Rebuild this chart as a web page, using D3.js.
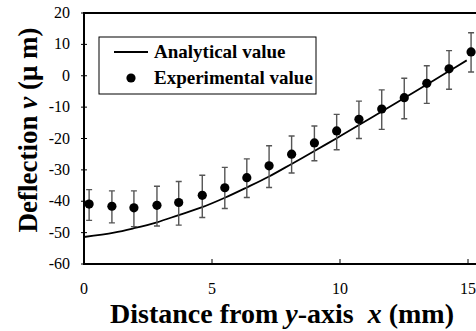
<!DOCTYPE html>
<html>
<head>
<meta charset="utf-8">
<script src="https://cdn.jsdelivr.net/npm/d3@7"></script>
<style>
  body { margin: 0; background: #fff; }
  svg { display: block; }
  text { font-family: "Liberation Serif", "Times New Roman", serif; }
</style>
</head>
<body>
<div id="chart"></div>
<script>

// ======================= //
// DATA
// ======================= //

// Experimental points (x in mm, v in um) with error bar ends
var xExp = [0.2, 1.09, 1.95, 2.85, 3.7, 4.62, 5.5, 6.36, 7.23, 8.11, 9.0, 9.87, 10.74, 11.63, 12.51, 13.39, 14.26, 15.12]
var vExp = [-40.9, -41.6, -42.1, -41.3, -40.4, -38.1, -35.7, -32.5, -28.7, -25.0, -21.4, -17.6, -13.9, -10.6, -7.0, -2.4, 2.2, 7.6]
var errTop = [-36.3, -36.7, -36.7, -35.2, -33.7, -31.7, -29.2, -26.5, -22.3, -19.2, -16.0, -12.3, -8.1, -4.5, -0.8, 3.2, 8.0, 13.7]
var errBottom = [-46.1, -46.9, -48.1, -47.9, -47.6, -45.2, -42.3, -38.8, -35.6, -31.0, -27.1, -23.6, -20.0, -17.1, -13.7, -8.8, -4.3, 1.2]

// Analytical curve
var xAna = [0, 1.17, 1.95, 2.85, 3.7, 4.62, 5.5, 6.36, 7.23, 8.11, 9.0, 9.87, 10.74, 11.63, 12.51, 13.39, 14.26, 14.95]
var vAna = [-51.4, -50.0, -48.6, -46.7, -44.4, -41.9, -38.9, -35.6, -32.1, -28.1, -24.0, -19.9, -15.7, -11.4, -7.1, -2.8, 1.5, 4.9]

// Ticks
var xTicks = [0, 5, 10, 15]
var yTicks = [20, 10, 0, -10, -20, -30, -40, -50, -60]

// ======================= //
// SVG AREA
// ======================= //

var W = 476, H = 331
var margin = {top: 13, left: 84, bottom: 67}
var plotBottom = H - margin.bottom

var svg = d3.select("#chart")
  .append("svg")
    .attr("width", W)
    .attr("height", H)

// ======================= //
// SCALES AND AXES
// ======================= //

// plot area runs off the right edge of the picture
var x = d3.scaleLinear()
  .domain([0, 16])
  .range([margin.left, margin.left + 25.6 * 16])

var y = d3.scaleLinear()
  .domain([-60, 20])
  .range([plotBottom, margin.top])

// frame: top, left, bottom
svg.append("path")
  .attr("d", "M" + (W + 5) + "," + margin.top + "H" + margin.left + "V" + plotBottom + "H" + (W + 5))
  .attr("fill", "none")
  .attr("stroke", "black")
  .attr("stroke-width", 2)

// Y ticks crossing the axis
svg.selectAll("ytick")
  .data(yTicks)
  .enter()
  .append("line")
    .attr("x1", margin.left - 3)
    .attr("x2", margin.left + 3)
    .attr("y1", function(d){ return y(d) })
    .attr("y2", function(d){ return y(d) })
    .attr("stroke", "black")
    .attr("stroke-width", 1)

svg.selectAll("ylabel")
  .data(yTicks)
  .enter()
  .append("text")
    .attr("x", 70)
    .attr("y", function(d){ return y(d) + 5 })
    .attr("text-anchor", "end")
    .style("font-size", "16px")
    .text(function(d){ return d })

// X ticks pointing inward
svg.selectAll("xtick")
  .data(xTicks.filter(function(d){ return d > 0 }))
  .enter()
  .append("line")
    .attr("x1", function(d){ return x(d) })
    .attr("x2", function(d){ return x(d) })
    .attr("y1", plotBottom)
    .attr("y2", plotBottom - 5)
    .attr("stroke", "black")
    .attr("stroke-width", 1)

svg.selectAll("xlabel")
  .data(xTicks)
  .enter()
  .append("text")
    .attr("x", function(d){ return x(d) })
    .attr("y", 294)
    .attr("text-anchor", "middle")
    .style("font-size", "16px")
    .text(function(d){ return d })

// Axis titles
var xTitle = svg.append("text")
  .attr("x", 282)
  .attr("y", 323)
  .attr("text-anchor", "middle")
  .style("font-size", "28px")
  .style("font-weight", "bold")
  .style("white-space", "pre")
xTitle.append("tspan").text("Distance from ")
xTitle.append("tspan").style("font-style", "italic").text("y")
xTitle.append("tspan").text("-axis  ")
xTitle.append("tspan").style("font-style", "italic").text("x")
xTitle.append("tspan").text(" (mm)")

var yTitle = svg.append("text")
  .attr("transform", "translate(37,130) rotate(-90)")
  .attr("text-anchor", "middle")
  .style("font-size", "27px")
  .style("font-weight", "bold")
yTitle.append("tspan").text("Deflection ")
yTitle.append("tspan").style("font-style", "italic").text("v")
yTitle.append("tspan").text(" (\u03bc m)")

// ======================= //
// MARKS
// ======================= //

var line = d3.line()
  .x(function(d){ return x(d[0]) })
  .y(function(d){ return y(d[1]) })
  .curve(d3.curveCatmullRom)

svg.append("path")
  .datum(xAna.map(function(d, i){ return [d, vAna[i]] }))
  .attr("d", line)
  .attr("fill", "none")
  .attr("stroke", "black")
  .attr("stroke-width", 1.8)

// Error bars
var bars = svg.append("g")
  .attr("stroke", "#555")
  .attr("stroke-width", 1.4)
bars.selectAll("bar")
  .data(xExp)
  .enter()
  .append("path")
    .attr("fill", "none")
    .attr("d", function(d, i){
      var cx = x(d), t = y(errTop[i]), b = y(errBottom[i])
      return "M" + (cx - 3) + "," + t + "H" + (cx + 3) + "M" + cx + "," + t + "V" + b + "M" + (cx - 3) + "," + b + "H" + (cx + 3)
    })

// Points
svg.append("g")
  .selectAll("dot")
  .data(xExp)
  .enter()
  .append("circle")
    .attr("cx", function(d){ return x(d) })
    .attr("cy", function(d, i){ return y(vExp[i]) })
    .attr("r", 4.6)
    .style("fill", "black")

// ======================= //
// LEGEND
// ======================= //

var legend = svg.append("g")
legend.append("rect")
  .attr("x", 99)
  .attr("y", 37)
  .attr("width", 217)
  .attr("height", 57)
  .attr("fill", "white")
  .attr("stroke", "black")
  .attr("stroke-width", 1)
legend.append("line")
  .attr("x1", 114).attr("x2", 148)
  .attr("y1", 52).attr("y2", 52)
  .attr("stroke", "black")
  .attr("stroke-width", 1.8)
legend.append("circle")
  .attr("cx", 131).attr("cy", 78)
  .attr("r", 4.6)
  .style("fill", "black")
legend.append("text")
  .attr("x", 154).attr("y", 58)
  .style("font-size", "19px")
  .style("font-weight", "bold")
  .text("Analytical value")
legend.append("text")
  .attr("x", 154).attr("y", 84)
  .style("font-size", "19px")
  .style("font-weight", "bold")
  .text("Experimental value")

</script>
</body>
</html>
